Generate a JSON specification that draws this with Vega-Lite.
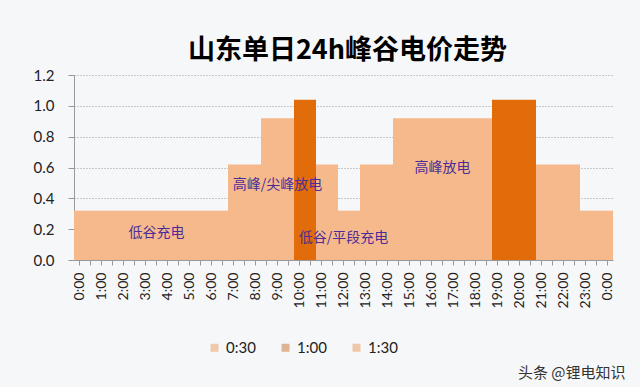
{
  "$schema": "https://vega.github.io/schema/vega-lite/v6.json",
  "width": 539,
  "height": 185,
  "autosize": {"type": "none"},
  "padding": {"left": 74, "top": 75, "right": 27, "bottom": 127},
  "background": "#F6F7F9",
  "config": {"view": {"stroke": null}},
  "title": {
    "text": "山东单日24h峰谷电价走势",
    "font": "Noto Sans CJK SC",
    "fontSize": 27,
    "fontWeight": "bold",
    "color": "#000000",
    "anchor": "middle",
    "offset": 3,
    "dx": 4
  },
  "layer": [
    {
      "data": {
        "values": [
          {"t": "0:00", "price": 0.32, "level": "light"},
          {"t": "0:30", "price": 0.32, "level": "light"},
          {"t": "1:00", "price": 0.32, "level": "light"},
          {"t": "1:30", "price": 0.32, "level": "light"},
          {"t": "2:00", "price": 0.32, "level": "light"},
          {"t": "2:30", "price": 0.32, "level": "light"},
          {"t": "3:00", "price": 0.32, "level": "light"},
          {"t": "3:30", "price": 0.32, "level": "light"},
          {"t": "4:00", "price": 0.32, "level": "light"},
          {"t": "4:30", "price": 0.32, "level": "light"},
          {"t": "5:00", "price": 0.32, "level": "light"},
          {"t": "5:30", "price": 0.32, "level": "light"},
          {"t": "6:00", "price": 0.32, "level": "light"},
          {"t": "6:30", "price": 0.32, "level": "light"},
          {"t": "7:00", "price": 0.62, "level": "light"},
          {"t": "7:30", "price": 0.62, "level": "light"},
          {"t": "8:00", "price": 0.62, "level": "light"},
          {"t": "8:30", "price": 0.92, "level": "light"},
          {"t": "9:00", "price": 0.92, "level": "light"},
          {"t": "9:30", "price": 0.92, "level": "light"},
          {"t": "10:00", "price": 1.04, "level": "dark"},
          {"t": "10:30", "price": 1.04, "level": "dark"},
          {"t": "11:00", "price": 0.62, "level": "light"},
          {"t": "11:30", "price": 0.62, "level": "light"},
          {"t": "12:00", "price": 0.32, "level": "light"},
          {"t": "12:30", "price": 0.32, "level": "light"},
          {"t": "13:00", "price": 0.62, "level": "light"},
          {"t": "13:30", "price": 0.62, "level": "light"},
          {"t": "14:00", "price": 0.62, "level": "light"},
          {"t": "14:30", "price": 0.92, "level": "light"},
          {"t": "15:00", "price": 0.92, "level": "light"},
          {"t": "15:30", "price": 0.92, "level": "light"},
          {"t": "16:00", "price": 0.92, "level": "light"},
          {"t": "16:30", "price": 0.92, "level": "light"},
          {"t": "17:00", "price": 0.92, "level": "light"},
          {"t": "17:30", "price": 0.92, "level": "light"},
          {"t": "18:00", "price": 0.92, "level": "light"},
          {"t": "18:30", "price": 0.92, "level": "light"},
          {"t": "19:00", "price": 1.04, "level": "dark"},
          {"t": "19:30", "price": 1.04, "level": "dark"},
          {"t": "20:00", "price": 1.04, "level": "dark"},
          {"t": "20:30", "price": 1.04, "level": "dark"},
          {"t": "21:00", "price": 0.62, "level": "light"},
          {"t": "21:30", "price": 0.62, "level": "light"},
          {"t": "22:00", "price": 0.62, "level": "light"},
          {"t": "22:30", "price": 0.62, "level": "light"},
          {"t": "23:00", "price": 0.32, "level": "light"},
          {"t": "23:30", "price": 0.32, "level": "light"},
          {"t": "24:00", "price": 0.32, "level": "light"}
        ]
      },
      "mark": {"type": "bar"},
      "encoding": {
        "x": {
          "field": "t",
          "type": "ordinal",
          "sort": null,
          "scale": {"paddingInner": 0, "paddingOuter": 0},
          "axis": {
            "title": "头条 @锂电知识",
            "titleFont": "Noto Sans CJK SC",
            "titleFontSize": 15,
            "titleFontWeight": "normal",
            "titleColor": "#333333",
            "titleX": 551,
            "titleY": 112,
            "titleAlign": "right",
            "titleBaseline": "middle",
            "labelExpr": "datum.value == '24:00' ? '0:00' : (indexof(datum.value, ':30') >= 0 ? '' : datum.value)",
            "labelAngle": 270,
            "labelFont": "Lato",
            "labelFontSize": 14,
            "labelColor": "#222222",
            "labelPadding": 7,
            "tickSize": 5,
            "tickColor": "#999999",
            "domainColor": "#999999"
          }
        },
        "y": {
          "field": "price",
          "type": "quantitative",
          "scale": {"domain": [0, 1.2], "nice": false},
          "axis": {
            "title": null,
            "tickCount": 6,
            "format": ".1f",
            "labelFont": "Lato",
            "labelFontSize": 15,
            "labelColor": "#222222",
            "labelPadding": 14,
            "tickSize": 6,
            "tickColor": "#999999",
            "domainColor": "#999999",
            "gridColor": "#9a9a9a",
            "gridDash": [1, 2]
          }
        },
        "color": {
          "field": "level",
          "type": "nominal",
          "scale": {
            "domain": ["0:30", "1:00", "1:30", "light", "dark"],
            "range": ["#EEC9AA", "#DDB393", "#F0C7A6", "#F5B98C", "#E36C0A"]
          },
          "legend": {
            "values": ["0:30", "1:00", "1:30"],
            "title": null,
            "orient": "none",
            "direction": "horizontal",
            "legendX": 133,
            "legendY": 265,
            "symbolType": "square",
            "symbolSize": 64,
            "symbolStrokeWidth": 0,
            "labelFont": "Lato",
            "labelFontSize": 15,
            "labelColor": "#222222",
            "labelOffset": 4,
            "columnPadding": 22
          }
        }
      }
    },
    {
      "data": {
        "values": [
          {"t": "3:30", "price": 0.175, "note": "低谷充电"},
          {"t": "9:00", "price": 0.486, "note": "高峰/尖峰放电"},
          {"t": "12:00", "price": 0.141, "note": "低谷/平段充电"},
          {"t": "16:30", "price": 0.595, "note": "高峰放电"}
        ]
      },
      "mark": {
        "type": "text",
        "font": "Noto Sans CJK SC",
        "fontSize": 14,
        "color": "#4B2B99",
        "align": "center",
        "baseline": "middle"
      },
      "encoding": {
        "x": {"field": "t", "type": "ordinal", "sort": null},
        "y": {"field": "price", "type": "quantitative"},
        "text": {"field": "note", "type": "nominal"}
      }
    }
  ]
}
